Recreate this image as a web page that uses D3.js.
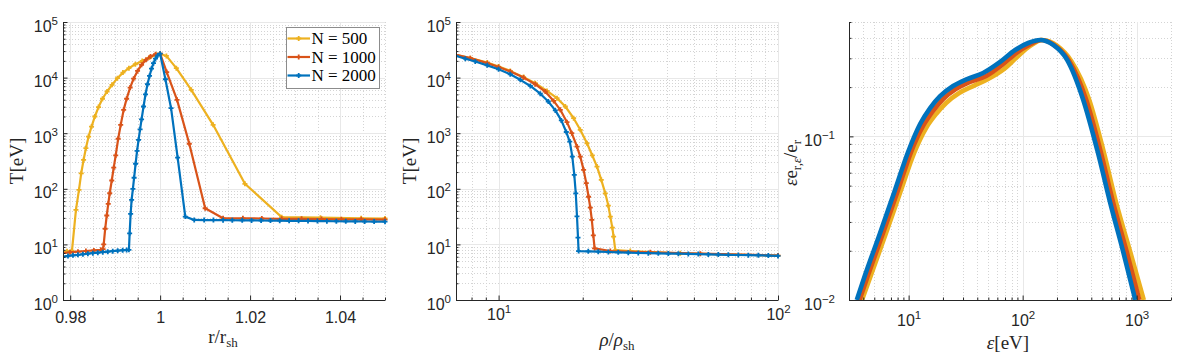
<!DOCTYPE html>
<html>
<head>
<meta charset="utf-8">
<script src="https://cdn.jsdelivr.net/npm/d3@7"></script>
<style>
    body { margin: 0; background: #fff; }
    svg { display: block; }
</style>
</head>
<body>
<svg id="chart" width="1178" height="360"></svg>
<script>

//
// ***********************************************************************************
//                      DATA
//
// ***********************************************************************************
//

const seriesLabels = ["N = 500", "N = 1000", "N = 2000"];
const seriesColors = ["#EDB120", "#D95319", "#0072BD"];

// Panel 1: temperature vs r / r_sh  ([r/r_sh, T in eV])
const profileR500 = [
    [0.97841, 7.3], [0.97929, 7.5], [0.98040, 7.7], [0.98128, 41.7], [0.98195, 95.5],
    [0.98245, 190], [0.98298, 331], [0.98349, 537], [0.98409, 871], [0.98475, 1318],
    [0.98548, 1995], [0.98630, 2951], [0.98718, 4169], [0.98820, 5623], [0.98930, 7413],
    [0.99050, 9772], [0.99173, 12300], [0.99306, 14790], [0.99448, 17380], [0.99602, 19950],
    [0.99764, 22910], [0.99912, 25700], [1.0, 26900], [1.00139, 24550], [1.00360, 14790],
    [1.00692, 6026], [1.01178, 1413], [1.01885, 123], [1.02703, 30.9], [1.03565, 30.2],
    [1.04471, 29.5], [1.05, 29.2]
];
const profileR1000 = [
    [0.97841, 7.0], [0.97996, 7.2], [0.98173, 7.4], [0.98349, 7.6], [0.98526, 7.8],
    [0.98681, 8.0], [0.98731, 8.2], [0.98745, 10], [0.98778, 19.1], [0.98813, 33.1],
    [0.98846, 53.7], [0.98879, 83.2], [0.98924, 141], [0.98968, 240], [0.99012, 398],
    [0.99067, 794], [0.99123, 1413], [0.99189, 2630], [0.99255, 4169], [0.99333, 6607],
    [0.99410, 9550], [0.99498, 13180], [0.99587, 16980], [0.99686, 20890], [0.99786, 23990],
    [0.99896, 26300], [1.0, 26900], [1.00146, 12590], [1.00376, 3981], [1.00648, 646],
    [1.01001, 44.7], [1.01399, 29.5], [1.01841, 29.5], [1.02261, 29.2], [1.02703, 28.8],
    [1.03145, 28.8], [1.03587, 28.5], [1.04029, 28.2], [1.04471, 28.2], [1.05, 27.9]
];
const profileR2000 = [
    [0.97841, 6.0], [0.97951, 6.2], [0.98062, 6.35], [0.98172, 6.5], [0.98283, 6.65],
    [0.98393, 6.8], [0.98504, 6.95], [0.98614, 7.1], [0.98725, 7.25], [0.98835, 7.4],
    [0.98946, 7.55], [0.99056, 7.7], [0.99167, 7.85], [0.99255, 7.95], [0.99306, 8.0],
    [0.99322, 15.8], [0.99344, 35.5], [0.99366, 63.1], [0.99394, 100], [0.99421, 158],
    [0.99454, 282], [0.99487, 479], [0.99520, 759], [0.99554, 1175], [0.99587, 1778],
    [0.99631, 3020], [0.99675, 5012], [0.99719, 7586], [0.99764, 10720], [0.99808, 14450],
    [0.99852, 18200], [0.99896, 21880], [0.99947, 25120], [1.0, 26900], [1.00117, 9333],
    [1.00243, 2818], [1.00389, 363], [1.00559, 31.6], [1.00758, 27.5], [1.00979, 27.4],
    [1.01185, 27.4], [1.01399, 27.3], [1.01604, 27.2], [1.01825, 27.1], [1.02033, 27.0],
    [1.02245, 26.9], [1.02453, 26.8], [1.02659, 26.7], [1.02868, 26.6], [1.03078, 26.5],
    [1.03288, 26.4], [1.03498, 26.3], [1.03708, 26.2], [1.03918, 26.1], [1.04128, 26.0],
    [1.04338, 25.9], [1.04548, 25.8], [1.04758, 25.7], [1.05, 25.6]
];

// Panel 2: temperature vs rho / rho_sh  ([rho/rho_sh, T in eV])
const profileRho500 = [
    [7.04, 25700], [7.92, 22400], [9.11, 18600], [10.0, 15800], [11.01, 13200],
    [12.29, 10200], [13.53, 7940], [14.90, 5750], [16.18, 4270], [17.33, 3020],
    [18.56, 1860], [19.60, 1150], [20.72, 660], [21.65, 398], [22.50, 251],
    [23.31, 145], [24.09, 83], [24.70, 50], [25.11, 31.6], [25.53, 20],
    [25.80, 13.8], [26.16, 7.9], [29.60, 7.6], [44.70, 6.9], [100, 6.3]
];
const profileRho1000 = [
    [7.04, 25700], [7.92, 22400], [9.11, 18200], [10.0, 15500], [11.01, 12900],
    [12.29, 10000], [13.53, 7590], [14.69, 5620], [15.74, 3800], [16.63, 2630],
    [17.57, 1580], [18.28, 1000], [19.08, 575], [19.60, 380], [20.15, 219],
    [20.60, 126], [20.99, 72], [21.29, 46], [21.56, 27.5], [21.83, 14.5],
    [22.06, 8.5], [25.11, 7.6], [34.91, 7.2], [52.72, 6.8], [100, 6.3]
];
const profileRho2000 = [
    [7.04, 24500], [7.60, 21900], [8.25, 19500], [9.11, 16600], [10.0, 14100],
    [11.01, 11500], [11.96, 9120], [12.99, 7080], [14.10, 5130], [15.06, 3720],
    [15.96, 2570], [16.77, 1700], [17.47, 1050], [17.98, 708], [18.36, 380],
    [18.66, 178], [18.89, 83], [19.08, 32], [19.24, 13.2], [19.33, 7.6],
    [20.94, 7.5], [22.74, 7.4], [24.70, 7.3], [26.81, 7.2], [29.12, 7.1],
    [31.62, 7.0], [34.34, 6.95], [37.29, 6.9], [40.50, 6.85], [43.98, 6.8],
    [47.75, 6.75], [51.85, 6.7], [56.31, 6.6], [61.14, 6.55], [66.40, 6.5],
    [72.10, 6.45], [78.30, 6.4], [85.03, 6.35], [92.33, 6.3], [100, 6.2]
];

// Panel 3: spectral energy density  ([epsilon in eV, eps * e_r,eps / e_r])
const spectrum500 = [
    [3.90, 0.0100], [4.68, 0.0142], [6.34, 0.0257], [8.58, 0.0470], [11.16, 0.0791],
    [14.23, 0.1125], [17.41, 0.137], [21.32, 0.160], [27.73, 0.184], [36.8, 0.203],
    [49.8, 0.224], [68.8, 0.258], [91.4, 0.310], [116.5, 0.357], [148.4, 0.388],
    [201.1, 0.357], [266.8, 0.289], [383.9, 0.167], [509.4, 0.0825], [662.4, 0.0391],
    [879.5, 0.0196], [1155, 0.0100]
];
const spectrum1000 = [
    [3.71, 0.0100], [4.41, 0.0142], [5.97, 0.0257], [8.08, 0.0470], [10.50, 0.0802],
    [13.39, 0.1157], [16.39, 0.143], [20.06, 0.169], [26.09, 0.195], [34.6, 0.215],
    [47.9, 0.234], [66.1, 0.273], [87.8, 0.323], [114.1, 0.362], [145.5, 0.388],
    [193.1, 0.357], [256.3, 0.289], [361.4, 0.167], [479.6, 0.0825], [623.6, 0.0391],
    [819.3, 0.0196], [1055, 0.0100]
];
const spectrum2000 = [
    [3.51, 0.0100], [4.15, 0.0142], [5.62, 0.0257], [7.60, 0.0470], [9.89, 0.0802],
    [12.61, 0.119], [15.43, 0.149], [18.88, 0.176], [24.56, 0.203], [32.6, 0.224],
    [45.0, 0.244], [63.5, 0.285], [86.0, 0.337], [111.9, 0.372], [142.6, 0.388],
    [185.4, 0.362], [246.1, 0.293], [340.1, 0.167], [451.1, 0.0825], [586.9, 0.0391],
    [763.2, 0.0196], [972.9, 0.0100]
];

// Axis domains and tick labels
const rDomain = [0.9784, 1.05];
const rTicks = [0.98, 1, 1.02, 1.04];
const rTickLabels = ["0.98", "1", "1.02", "1.04"];
const tempDomain = [1, 1e5];
const tempTicks = [1, 10, 100, 1e3, 1e4, 1e5];
const rhoDomain = [7.04, 100];
const rhoTicks = [10, 100];
const energyDomain = [3, 2000];
const energyTicks = [10, 100, 1000];
const spectrumDomain = [0.01, 0.5];
const spectrumTicks = [0.01, 0.1];

//
// ***********************************************************************************
//                      DRAWING
//
// ***********************************************************************************
//

const svg = d3.select("#chart");
const TOP = 22, BOTTOM = 300;
const AXIS_COLOR = "#262626";
const SANS = "Liberation Sans, Arial, sans-serif";
const SERIF = "Liberation Serif, Times New Roman, serif";

/**
 * Writes a "10^n" label into a text selection.
 */
function powerLabel(text, value) {
    let exp = Math.round(Math.log10(value));
    text.text("");
    text.append("tspan").text("10");
    text.append("tspan")
        .attr("dy", -7)
        .attr("font-size", 11.5)
        .text(exp < 0 ? "\u2212" + (-exp) : exp);
}

/**
 * Draws one axes box with grid, axes, curves.
 */
function drawPanel(p) {

    let x = p.xLog ? d3.scaleLog() : d3.scaleLinear();
    x.domain(p.xDomain).range([p.left, p.right]);
    let y = d3.scaleLog().domain(p.yDomain).range([BOTTOM, TOP]);

    let g = svg.append("g");

    // Minor and major tick values.
    let xMinor = p.xLog
        ? x.ticks().filter(v => !p.xTicks.includes(v))
        : d3.range(0, 15).map(i => +(0.98 + i * 0.005).toFixed(3)).filter(v => v <= p.xDomain[1] + 1e-9 && !p.xTicks.includes(v));
    let yMinor = y.ticks().filter(v => v >= p.yDomain[0] && v <= p.yDomain[1] * 1.0001 && !p.yTicks.includes(v));

    // Grid.
    let grid = g.append("g").attr("fill", "none");
    grid.selectAll("line.xminor")
        .data(xMinor)
        .join("line")
            .attr("x1", d => Math.round(x(d)) + 0.5).attr("x2", d => Math.round(x(d)) + 0.5)
            .attr("y1", TOP).attr("y2", BOTTOM)
            .attr("stroke", "#d4d4d4")
            .attr("stroke-dasharray", "1,2");
    grid.selectAll("line.yminor")
        .data(yMinor)
        .join("line")
            .attr("y1", d => Math.round(y(d)) + 0.5).attr("y2", d => Math.round(y(d)) + 0.5)
            .attr("x1", p.left).attr("x2", p.right)
            .attr("stroke", "#d4d4d4")
            .attr("stroke-dasharray", "1,2");
    grid.selectAll("line.xmajor")
        .data(p.xTicks)
        .join("line")
            .attr("x1", d => Math.round(x(d)) + 0.5).attr("x2", d => Math.round(x(d)) + 0.5)
            .attr("y1", TOP).attr("y2", BOTTOM)
            .attr("stroke", "#e8e8e8");
    grid.selectAll("line.ymajor")
        .data(p.yTicks)
        .join("line")
            .attr("y1", d => Math.round(y(d)) + 0.5).attr("y2", d => Math.round(y(d)) + 0.5)
            .attr("x1", p.left).attr("x2", p.right)
            .attr("stroke", "#e8e8e8");

    // Curves, clipped to the axes box.
    let clipId = "clip" + p.left;
    svg.append("clipPath").attr("id", clipId)
        .append("rect")
            .attr("x", p.left).attr("y", TOP - 3)
            .attr("width", p.right - p.left + 3).attr("height", BOTTOM - TOP + 3);

    let line = d3.line()
        .x(d => x(d[0]))
        .y(d => y(d[1]))
        .curve(p.smooth ? d3.curveMonotoneX : d3.curveLinear);
    let curves = g.append("g").attr("clip-path", `url(#${clipId})`);
    p.series.forEach((s, i) => {
        curves.append("path")
            .attr("d", line(s))
            .attr("fill", "none")
            .attr("stroke", seriesColors[i])
            .attr("stroke-width", p.lineWidth)
            .attr("stroke-linejoin", "round");
        if (p.markers) {
            let m = s.map(d => {
                let px = x(d[0]), py = y(d[1]);
                return `M${px - 2.5},${py}h5M${px},${py - 2.5}v5`;
            }).join("");
            curves.append("path")
                .attr("d", m)
                .attr("fill", "none")
                .attr("stroke", seriesColors[i])
                .attr("stroke-width", 1.8);
        }
    });

    // Minor ticks (inward).
    g.append("g")
        .attr("transform", `translate(0,${BOTTOM})`)
        .call(d3.axisBottom(x).tickValues(xMinor).tickSize(-2.5).tickFormat(""))
        .call(a => a.select(".domain").remove())
        .call(a => a.selectAll("line").attr("stroke", AXIS_COLOR));
    g.append("g")
        .attr("transform", `translate(${p.left},0)`)
        .call(d3.axisLeft(y).tickValues(yMinor).tickSize(-2.5).tickFormat(""))
        .call(a => a.select(".domain").remove())
        .call(a => a.selectAll("line").attr("stroke", AXIS_COLOR));

    // Major x axis.
    let xAxis = g.append("g")
        .attr("transform", `translate(0,${BOTTOM})`)
        .call(d3.axisBottom(x).tickValues(p.xTicks).tickSize(-4.5).tickSizeOuter(0).tickFormat(""));
    xAxis.select(".domain").attr("stroke", AXIS_COLOR);
    xAxis.selectAll("line").attr("stroke", AXIS_COLOR);
    xAxis.selectAll(".tick text")
        .attr("y", p.xTickBaseline - BOTTOM)
        .attr("dy", null)
        .attr("fill", AXIS_COLOR)
        .attr("font-family", SANS)
        .attr("font-size", 16)
        .each(function (d, i) {
            let t = d3.select(this);
            if (p.xLog) powerLabel(t, d);
            else t.text(p.xTickLabels[i]);
        });

    // Major y axis.
    let yAxis = g.append("g")
        .attr("transform", `translate(${p.left},0)`)
        .call(d3.axisLeft(y).tickValues(p.yTicks).tickSize(-4.5).tickSizeOuter(0).tickFormat(""));
    yAxis.select(".domain").attr("stroke", AXIS_COLOR);
    yAxis.selectAll("line").attr("stroke", AXIS_COLOR);
    yAxis.selectAll(".tick text")
        .attr("x", -p.yLabelGap)
        .attr("dy", "9px")
        .attr("fill", AXIS_COLOR)
        .attr("font-family", SANS)
        .attr("font-size", 16)
        .each(function (d) { powerLabel(d3.select(this), d); });

    // Axis titles.
    let yTitle = g.append("text")
        .attr("transform", `translate(${p.yTitlePos[0]},${p.yTitlePos[1]}) rotate(-90)`)
        .attr("text-anchor", "middle")
        .attr("font-family", SERIF)
        .attr("font-size", 19)
        .attr("fill", AXIS_COLOR);
    p.yTitle(yTitle);

    let xTitle = g.append("text")
        .attr("x", p.xTitlePos[0])
        .attr("y", p.xTitlePos[1])
        .attr("text-anchor", "middle")
        .attr("font-family", SERIF)
        .attr("font-size", 19)
        .attr("fill", AXIS_COLOR);
    p.xTitle(xTitle);

    return { x, y, g };
}

// Title helpers.
function tempTitle(t) {
    t.text("T[eV]");
}
function sub(t, str, dy) {
    t.append("tspan").attr("dy", dy).attr("font-size", 13).text(str);
}

// Panel 1.
drawPanel({
    left: 63, right: 385,
    xLog: false, xDomain: rDomain, xTicks: rTicks, xTickLabels: rTickLabels, xTickBaseline: 323,
    yDomain: tempDomain, yTicks: tempTicks, yLabelGap: 5,
    series: [profileR500, profileR1000, profileR2000],
    markers: true, lineWidth: 2.2, smooth: false,
    yTitlePos: [23, 161], yTitle: tempTitle,
    xTitlePos: [223, 343],
    xTitle: t => {
        t.append("tspan").text("r/r");
        sub(t, "sh", 4);
    }
});

// Panel 2.
drawPanel({
    left: 456, right: 778,
    xLog: true, xDomain: rhoDomain, xTicks: rhoTicks, xTickBaseline: 320,
    yDomain: tempDomain, yTicks: tempTicks, yLabelGap: 5,
    series: [profileRho500, profileRho1000, profileRho2000],
    markers: true, lineWidth: 2.2, smooth: false,
    yTitlePos: [416, 161], yTitle: tempTitle,
    xTitlePos: [617, 346],
    xTitle: t => {
        t.append("tspan").attr("font-style", "italic").text("ρ");
        t.append("tspan").text("/");
        t.append("tspan").attr("font-style", "italic").text("ρ");
        sub(t, "sh", 4);
    }
});

// Panel 3.
drawPanel({
    left: 849, right: 1171,
    xLog: true, xDomain: energyDomain, xTicks: energyTicks, xTickBaseline: 326,
    yDomain: spectrumDomain, yTicks: spectrumTicks, yLabelGap: 14,
    series: [spectrum500, spectrum1000, spectrum2000],
    markers: false, lineWidth: 4.6, smooth: true,
    yTitlePos: [797, 163],
    yTitle: t => {
        t.append("tspan").attr("font-style", "italic").text("ε");
        t.append("tspan").text("e");
        t.append("tspan").attr("dy", 4).attr("font-size", 13).text("r,");
        t.append("tspan").attr("font-size", 13).attr("font-style", "italic").text("ε");
        t.append("tspan").attr("dy", -4).text("/e");
        sub(t, "r", 4);
    },
    xTitlePos: [1008, 349],
    xTitle: t => {
        t.append("tspan").attr("font-style", "italic").text("ε");
        t.append("tspan").text("[eV]");
    }
});

// Legend (first panel).
let legend = svg.append("g").attr("transform", "translate(286.5,27.5)");
legend.append("rect")
    .attr("width", 93).attr("height", 61)
    .attr("fill", "#fff")
    .attr("stroke", "#8c8c8c");
seriesLabels.forEach((label, i) => {
    let row = legend.append("g").attr("transform", `translate(0,${11 + i * 18.5})`);
    row.append("line")
        .attr("x1", 1).attr("x2", 23.5)
        .attr("stroke", seriesColors[i])
        .attr("stroke-width", 2.2);
    row.append("path")
        .attr("d", "M9.7,0h5M12.2,-2.5v5")
        .attr("stroke", seriesColors[i])
        .attr("stroke-width", 1.8);
    row.append("text")
        .attr("x", 25)
        .attr("y", 5.5)
        .attr("font-family", SERIF)
        .attr("font-size", 17)
        .attr("fill", "#000")
        .text(label);
});

</script>
</body>
</html>
